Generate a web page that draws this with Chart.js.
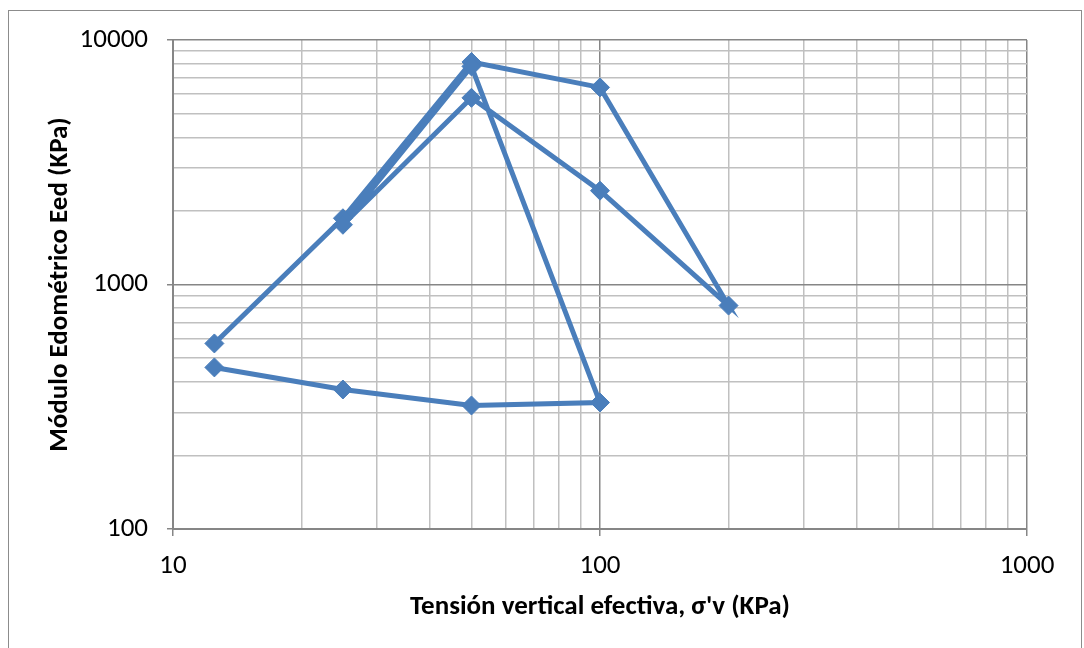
<!DOCTYPE html>
<html>
<head>
<meta charset="utf-8">
<script src="https://cdn.jsdelivr.net/npm/chart.js@4/dist/chart.umd.min.js"></script>
<style>
    body { margin: 0; background: #ffffff; }
    #Wrap { position: relative; width: 1084px; height: 648px; }
    #Frame { position: absolute; left: 8px; top: 10px; width: 1074px; height: 650px; border: 1.5px solid #8c8c8c; box-sizing: border-box; pointer-events: none; }
    canvas { position: absolute; left: 0; top: 0; }
</style>
</head>
<body>
<div id="Wrap">
    <canvas id="ChartCanvas" width="1084" height="648"></canvas>
    <div id="Frame"></div>
</div>
<script>
// Effective vertical stress (KPa), in test order
const stress = [12.5, 25, 50, 100, 200, 100, 50, 25, 50, 100, 50, 25, 12.5];
// Oedometric modulus Eed (KPa)
const modulus = [574, 1866, 8130, 6400, 820, 2420, 5800, 1755, 7800, 329, 320, 372, 458];

// Axis ranges and labelled ticks
const xRange = [10, 1000];
const yRange = [100, 10000];
const xLabels = [10, 100, 1000];
const yLabels = [100, 1000, 10000];

const axisTitleX = "Tensión vertical efectiva, σ'v (KPa)";
const axisTitleY = "Módulo Edométrico Eed (KPa)";

const fontName = 'Carlito, Calibri, Lato, sans-serif';

Initialize();

function Initialize()
{
    // Build 1..9 x 10^n ticks so the minor grid gets drawn
    function logTicks(min, max)
    {
        const list = [];
        for (let d = min; d < max; d *= 10)
        {
            for (let m = 1; m < 10; m++) list.push({value: d * m});
        }
        list.push({value: max});
        return list;
    }

    function isMajor(v)
    {
        const l = Math.log10(v);
        return Math.abs(l - Math.round(l)) < 1e-9;
    }

    const gridColor = (ctx) => ctx.tick && isMajor(ctx.tick.value) ? '#868686' : '#c0c0c0';
    const tickColor = (ctx) => ctx.tick && isMajor(ctx.tick.value) ? '#868686' : 'rgba(0,0,0,0)';

    const points = stress.map((s, i) => ({x: s, y: modulus[i]}));

    const ctx = document.getElementById('ChartCanvas').getContext('2d');
    const chart = new Chart(ctx, {
        type: 'scatter',
        data: {
            datasets: [{
                data: points,
                showLine: true,
                borderColor: '#4A7EBB',
                backgroundColor: '#4A7EBB',
                borderWidth: 5,
                pointStyle: 'rectRot',
                pointRadius: 9.5,
                pointBorderWidth: 1,
                pointBackgroundColor: '#4A7EBB',
                pointBorderColor: '#4A7EBB',
                tension: 0
            }]
        },
        options: {
            responsive: false,
            animation: false,
            events: [],
            layout: {
                padding: {left: 0, top: 40, right: 57, bottom: 0}
            },
            plugins: {
                legend: {display: false},
                tooltip: {enabled: false}
            },
            scales: {
                x: {
                    type: 'logarithmic',
                    min: xRange[0],
                    max: xRange[1],
                    afterBuildTicks: (scale) => { scale.ticks = logTicks(xRange[0], xRange[1]); },
                    afterFit: (scale) => { scale.height = 119; },
                    ticks: {
                        autoSkip: false,
                        maxRotation: 0,
                        padding: 14,
                        color: '#000000',
                        font: {family: fontName, size: 27},
                        callback: (v) => xLabels.includes(v) ? String(v) : ''
                    },
                    grid: {
                        color: gridColor,
                        tickColor: tickColor,
                        lineWidth: 1.5,
                        tickLength: 7,
                        drawTicks: true
                    },
                    border: {color: '#868686', width: 2},
                    title: {
                        display: true,
                        text: axisTitleX,
                        color: '#000000',
                        font: {family: fontName, size: 27, weight: 'bold'},
                        padding: {top: 0, bottom: 25}
                    }
                },
                y: {
                    type: 'logarithmic',
                    min: yRange[0],
                    max: yRange[1],
                    afterBuildTicks: (scale) => { scale.ticks = logTicks(yRange[0], yRange[1]); },
                    afterFit: (scale) => { scale.width = 173; },
                    ticks: {
                        autoSkip: false,
                        padding: 19,
                        color: '#000000',
                        font: {family: fontName, size: 27},
                        callback: (v) => yLabels.includes(v) ? String(v) : ''
                    },
                    grid: {
                        color: gridColor,
                        tickColor: tickColor,
                        lineWidth: 1.5,
                        tickLength: 6,
                        drawTicks: true
                    },
                    border: {color: '#868686', width: 2},
                    title: {
                        display: true,
                        text: axisTitleY,
                        color: '#000000',
                        font: {family: fontName, size: 27, weight: 'bold'},
                        padding: {top: 44, bottom: 0}
                    }
                }
            }
        }
    });
}
</script>
</body>
</html>
